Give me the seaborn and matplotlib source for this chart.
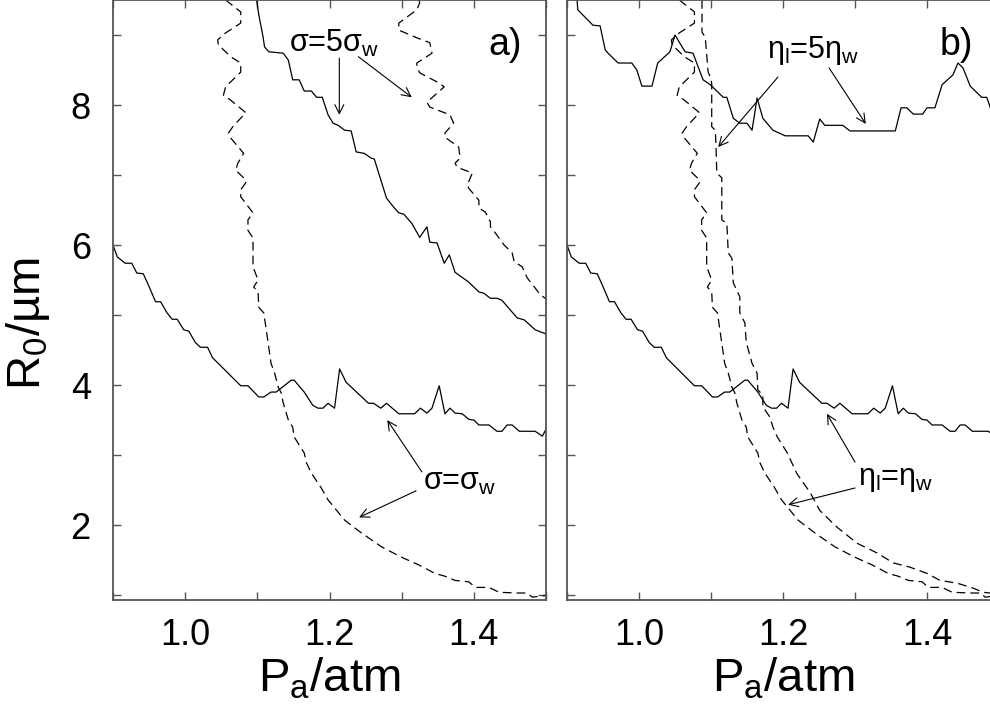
import numpy as np
import pandas as pd
import matplotlib
matplotlib.use("Agg")
import matplotlib.pyplot as plt
from matplotlib.ticker import MultipleLocator
import seaborn as sns

# ---------------- data ----------------
# solid curve, sigma = sigma_w / eta_l = eta_w (same in both panels)
base_solid_x = [0.900, 0.906, 0.917, 0.926, 0.933, 0.942, 0.949, 0.959, 0.966, 0.975,
                0.982, 0.989, 0.998, 1.005, 1.014, 1.021, 1.031, 1.038, 1.077, 1.087,
                1.102, 1.109, 1.119, 1.126, 1.147, 1.151, 1.165, 1.175, 1.177, 1.184,
                1.191, 1.198, 1.207, 1.214, 1.223, 1.254, 1.261, 1.271, 1.279, 1.296,
                1.318, 1.326, 1.335, 1.342, 1.352, 1.360, 1.367, 1.374, 1.384, 1.393,
                1.400, 1.407, 1.421, 1.432, 1.439, 1.446, 1.453, 1.463, 1.485, 1.495, 1.503]
base_solid_y = [6.00, 5.83, 5.74, 5.74, 5.60, 5.59, 5.43, 5.19, 5.19, 5.03,
                4.94, 4.94, 4.79, 4.77, 4.61, 4.54, 4.54, 4.39, 3.99, 3.99,
                3.83, 3.83, 3.90, 3.90, 4.07, 4.07, 3.90, 3.74, 3.71, 3.67,
                3.67, 3.74, 3.67, 4.23, 4.04, 3.74, 3.74, 3.67, 3.74, 3.59,
                3.59, 3.67, 3.60, 3.67, 3.99, 3.59, 3.67, 3.60, 3.59, 3.51,
                3.50, 3.43, 3.43, 3.34, 3.34, 3.43, 3.43, 3.34, 3.34, 3.27, 3.43]

# dashed curve, sigma = sigma_w / eta_l = eta_w (same in both panels)
base_dash_x = [1.056, 1.077, 1.077, 1.056, 1.045, 1.046, 1.063, 1.077, 1.077, 1.056,
               1.053, 1.063, 1.084, 1.066, 1.060, 1.063, 1.081, 1.073, 1.070, 1.084,
               1.084, 1.077, 1.077, 1.094, 1.087, 1.087, 1.094, 1.094, 1.101, 1.095,
               1.101, 1.102, 1.109, 1.119, 1.124, 1.129, 1.133, 1.136, 1.143, 1.149,
               1.151, 1.165, 1.168, 1.175, 1.188, 1.198, 1.221, 1.244, 1.272, 1.300,
               1.324, 1.346, 1.360, 1.374, 1.393, 1.402, 1.421, 1.435, 1.460, 1.474,
               1.481, 1.495, 1.503]
base_dash_y = [9.50, 9.33, 9.17, 9.03, 8.93, 8.86, 8.69, 8.60, 8.47, 8.26,
               8.14, 8.07, 7.89, 7.69, 7.60, 7.53, 7.31, 7.17, 7.07, 6.93,
               6.89, 6.79, 6.69, 6.46, 6.36, 6.21, 6.10, 5.69, 5.50, 5.40,
               5.33, 5.11, 5.03, 4.31, 4.17, 3.97, 3.89, 3.74, 3.50, 3.40,
               3.26, 3.03, 2.89, 2.74, 2.54, 2.36, 2.07, 1.89, 1.69, 1.54,
               1.43, 1.31, 1.27, 1.21, 1.19, 1.11, 1.11, 1.04, 1.03, 1.03,
               0.97, 0.99, 1.00]

# panel a: sigma = 5 sigma_w, solid
sig5_solid_x = [1.099, 1.102, 1.108, 1.110, 1.116, 1.136, 1.143, 1.149, 1.158, 1.165,
                1.175, 1.182, 1.190, 1.198, 1.205, 1.212, 1.221, 1.230, 1.237, 1.248,
                1.258, 1.262, 1.269, 1.279, 1.289, 1.296, 1.303, 1.314, 1.325, 1.335,
                1.339, 1.349, 1.359, 1.366, 1.374, 1.393, 1.407, 1.414, 1.423, 1.432,
                1.439, 1.460, 1.470, 1.485, 1.492, 1.498, 1.503]
sig5_solid_y = [9.50, 9.29, 8.97, 8.83, 8.76, 8.74, 8.64, 8.36, 8.36, 8.20,
                8.20, 8.11, 8.11, 7.86, 7.74, 7.71, 7.64, 7.63, 7.33, 7.31,
                7.24, 7.23, 7.00, 6.67, 6.54, 6.46, 6.44, 6.31, 6.11, 6.26,
                6.04, 6.03, 5.74, 5.86, 5.61, 5.47, 5.33, 5.31, 5.24, 5.24,
                5.21, 4.96, 4.93, 4.79, 4.76, 4.74, 4.69]

# panel a: sigma = 5 sigma_w, dashed
sig5_dash_x = [1.324, 1.325, 1.321, 1.296, 1.296, 1.321, 1.339, 1.342, 1.321, 1.321,
               1.325, 1.349, 1.359, 1.335, 1.339, 1.367, 1.372, 1.360, 1.360, 1.379,
               1.381, 1.374, 1.377, 1.398, 1.391, 1.393, 1.407, 1.407, 1.416, 1.423,
               1.423, 1.430, 1.442, 1.453, 1.456, 1.467, 1.474, 1.484, 1.492, 1.503]
sig5_dash_y = [9.50, 9.46, 9.36, 9.17, 9.07, 8.96, 8.89, 8.74, 8.60, 8.54,
               8.46, 8.33, 8.26, 8.04, 7.97, 7.86, 7.74, 7.60, 7.54, 7.40,
               7.24, 7.17, 7.11, 7.03, 6.86, 6.81, 6.64, 6.53, 6.47, 6.33,
               6.26, 6.17, 6.00, 5.89, 5.76, 5.69, 5.53, 5.40, 5.29, 5.21]

# panel b: eta_l = 5 eta_w, solid
eta5_solid_x = [0.914, 0.915, 0.936, 0.946, 0.953, 0.957, 0.971, 0.990, 0.997, 1.004,
                1.018, 1.026, 1.043, 1.050, 1.064, 1.075, 1.089, 1.099, 1.117, 1.122,
                1.131, 1.140, 1.150, 1.157, 1.164, 1.172, 1.186, 1.203, 1.235, 1.242,
                1.251, 1.258, 1.283, 1.293, 1.356, 1.364, 1.372, 1.381, 1.394, 1.400,
                1.411, 1.421, 1.436, 1.443, 1.450, 1.460, 1.476, 1.483, 1.490]
eta5_solid_y = [9.50, 9.36, 9.14, 9.13, 8.79, 8.74, 8.60, 8.60, 8.50, 8.27,
                8.27, 8.60, 8.76, 9.00, 8.76, 8.74, 8.36, 8.29, 8.11, 8.11,
                7.81, 7.74, 7.74, 7.64, 8.10, 7.81, 7.64, 7.56, 7.56, 7.47,
                7.80, 7.71, 7.71, 7.63, 7.63, 7.96, 7.96, 7.87, 7.87, 7.96,
                7.96, 8.29, 8.43, 8.60, 8.53, 8.27, 8.11, 8.11, 7.90]

# panel b: eta_l = 5 eta_w, dashed
eta5_dash_x = [1.0875, 1.0875, 1.092, 1.096, 1.099, 1.101, 1.101, 1.106, 1.107, 1.108,
               1.115, 1.115, 1.122, 1.124, 1.129, 1.131, 1.140, 1.140, 1.147, 1.149,
               1.157, 1.164, 1.165, 1.172, 1.172, 1.182, 1.186, 1.192, 1.206, 1.219,
               1.238, 1.251, 1.275, 1.303, 1.331, 1.353, 1.376, 1.400, 1.418, 1.442,
               1.464, 1.478, 1.4875, 1.500]
eta5_dash_y = [9.50, 9.04, 8.97, 8.47, 8.40, 8.31, 7.69, 7.64, 7.40, 7.03,
               6.96, 6.36, 6.31, 5.89, 5.81, 5.46, 5.26, 5.03, 4.89, 4.61,
               4.31, 4.17, 3.93, 3.86, 3.69, 3.54, 3.40, 3.26, 3.03, 2.74,
               2.46, 2.21, 1.97, 1.74, 1.60, 1.46, 1.40, 1.31, 1.21, 1.17,
               1.10, 1.04, 1.03, 1.00]

x_ticklabels = ["1.0", "1.2", "1.4"]
y_ticklabels = ["2", "4", "6", "8"]

# ---------------- style ----------------
sns.set_theme(style="ticks")
plt.rcParams["font.family"] = ["Liberation Sans", "DejaVu Sans"]
plt.rcParams["mathtext.fontset"] = "custom"
plt.rcParams["mathtext.rm"] = "Liberation Sans"
plt.rcParams["mathtext.it"] = "Liberation Sans:italic"
plt.rcParams["mathtext.sf"] = "Liberation Sans"
plt.rcParams["text.color"] = "black"
plt.rcParams["axes.labelcolor"] = "black"
plt.rcParams["xtick.labelcolor"] = "black"
plt.rcParams["ytick.labelcolor"] = "black"

W, H = 990, 721
fig = plt.figure(figsize=(W / 100, H / 100), dpi=100)
axa = fig.add_axes([113 / W, 121 / H, 433 / W, 600 / H])
axb = fig.add_axes([567 / W, 121 / H, 432 / W, 600 / H])

spine_col = "#555555"
DASH = (7, 4)


def draw(ax, x, y, dashed=False):
    df = pd.DataFrame({"x": x, "y": y})
    sns.lineplot(data=df, x="x", y="y", ax=ax, sort=False, estimator=None,
                 color="black", lw=0.9)
    if dashed:
        ax.lines[-1].set_dashes(DASH)


for ax in (axa, axb):
    draw(ax, base_solid_x, base_solid_y)
    draw(ax, base_dash_x, base_dash_y, dashed=True)

draw(axa, sig5_solid_x, sig5_solid_y)
draw(axa, sig5_dash_x, sig5_dash_y, dashed=True)
draw(axb, eta5_solid_x, eta5_solid_y)
draw(axb, eta5_dash_x, eta5_dash_y, dashed=True)

for ax in (axa, axb):
    ax.set_xlim(0.9, 1.5)
    ax.set_ylim(0.93, 9.5)
    ax.set_xticks([1.0, 1.2, 1.4])
    ax.set_xticklabels(x_ticklabels)
    ax.xaxis.set_minor_locator(MultipleLocator(0.1))
    ax.set_yticks([2, 4, 6, 8])
    ax.yaxis.set_minor_locator(MultipleLocator(1))
    ax.tick_params(which="both", direction="in", top=True, right=True,
                   length=6, width=1.0, color=spine_col)
    ax.tick_params(axis="x", which="major", labelsize=26, pad=13)
    ax.tick_params(axis="y", which="major", labelsize=26, pad=16)
    for s in ax.spines.values():
        s.set_color(spine_col)
        s.set_linewidth(1.3)
    ax.set_xlabel("P$_{\\rm a}$/atm", fontsize=34, labelpad=2)
    ax.set_ylabel("")

axa.set_yticklabels(y_ticklabels)
axb.set_yticklabels([])
axa.set_ylabel("R$_{\\rm 0}$/\u00b5m", fontsize=34)
axa.yaxis.set_label_coords(-0.14, 0.46)

arrow = dict(arrowstyle="->", lw=0.8, color="black", shrinkA=0, shrinkB=0,
             mutation_scale=16)
fs_ann = 22

# panel a annotations
axa.text(1.144, 8.88, "\u03c3=5\u03c3$_{\\rm w}$", fontsize=fs_ann, ha="left", va="center")
axa.annotate("", xy=(1.2136, 7.86), xytext=(1.2136, 8.67), arrowprops=arrow)
axa.annotate("", xy=(1.314, 8.11), xytext=(1.240, 8.69), arrowprops=arrow)
axa.text(1.329, 2.62, "\u03c3=\u03c3$_{\\rm w}$", fontsize=fs_ann, ha="left", va="center")
axa.annotate("", xy=(1.280, 3.50), xytext=(1.328, 2.76), arrowprops=arrow)
axa.annotate("", xy=(1.241, 2.11), xytext=(1.320, 2.49), arrowprops=arrow)
axa.text(0.866, 0.925, "a)", transform=axa.transAxes, fontsize=27,
         ha="left", va="center")

# panel b annotations
axb.text(1.178, 8.78, "\u03b7$_{\\rm l}$=5\u03b7$_{\\rm w}$", fontsize=fs_ann, ha="left", va="center")
axb.annotate("", xy=(1.110, 7.40), xytext=(1.193, 8.40), arrowprops=arrow)
axb.annotate("", xy=(1.315, 7.73), xytext=(1.264, 8.53), arrowprops=arrow)
axb.text(1.304, 2.66, "\u03b7$_{\\rm l}$=\u03b7$_{\\rm w}$", fontsize=fs_ann, ha="left", va="center")
axb.annotate("", xy=(1.261, 3.59), xytext=(1.300, 2.90), arrowprops=arrow)
axb.annotate("", xy=(1.207, 2.29), xytext=(1.300, 2.53), arrowprops=arrow)
axb.text(0.863, 0.925, "b)", transform=axb.transAxes, fontsize=27,
         ha="left", va="center")

fig.savefig("out.png", dpi=100)
